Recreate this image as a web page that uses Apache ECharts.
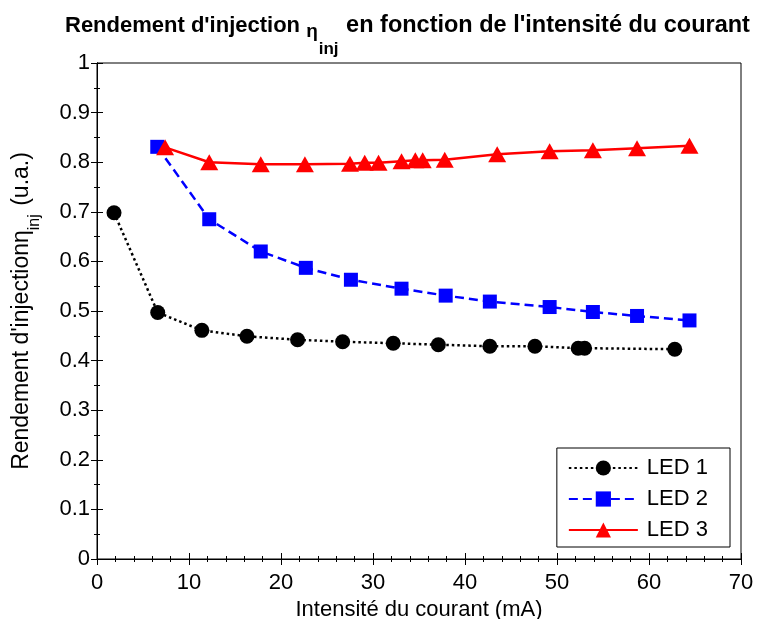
<!DOCTYPE html>
<html><head><meta charset="utf-8">
<script src="https://cdn.jsdelivr.net/npm/echarts@6/dist/echarts.min.js"></script>
<style>html,body{margin:0;padding:0;background:#fff}#c{width:771px;height:619px}</style>
</head><body><div id="c"></div>
<script>
const xTickLabels = ['0','10','20','30','40','50','60','70'];
const yTickLabels = ['0','0.1','0.2','0.3','0.4','0.5','0.6','0.7','0.8','0.9','1'];
const seriesNames = ['LED 1','LED 2','LED 3'];
const led1X = [1.85, 6.6, 11.4, 16.3, 21.8, 26.7, 32.2, 37.1, 42.7, 47.6, 52.3, 53.0, 62.8];
const led1Y = [0.698, 0.497, 0.461, 0.449, 0.442, 0.438, 0.435, 0.432, 0.429, 0.429, 0.425, 0.425, 0.423];
const led2X = [6.55, 12.2, 17.8, 22.7, 27.6, 33.1, 37.9, 42.7, 49.2, 53.9, 58.7, 64.4];
const led2Y = [0.831, 0.685, 0.620, 0.587, 0.563, 0.545, 0.531, 0.519, 0.508, 0.498, 0.490, 0.481];
const led3X = [7.4, 12.2, 17.8, 22.6, 27.5, 29.1, 30.6, 33.1, 34.6, 35.4, 37.8, 43.5, 49.2, 53.9, 58.7, 64.4];
const led3Y = [0.830, 0.800, 0.796, 0.796, 0.797, 0.799, 0.799, 0.802, 0.804, 0.804, 0.805, 0.816, 0.822, 0.824, 0.828, 0.833];

const zip = (xs, ys) => xs.map((x, i) => [x, ys[i]]);
const FONT = '"Liberation Sans", Arial, sans-serif';
const chart = echarts.init(document.getElementById('c'));

const axisLine = {show: true, lineStyle: {color: '#000', width: 1}};
const axisTick = {show: true, inside: true, length: 6, lineStyle: {color: '#000'}};
const xMin = +xTickLabels[0], xMax = +xTickLabels[xTickLabels.length-1];
const yMin = +yTickLabels[0], yMax = +yTickLabels[yTickLabels.length-1];

chart.setOption({
  animation: false,
  backgroundColor: '#fff',
  title: {
    text: "{b|Rendement d'injection }{eta|η}{sub|inj}{c| en fonction de l'intensité du courant}",
    left: 60, top: 8,
    textStyle: {
      rich: {
        b: {fontFamily: FONT, fontWeight: 'bold', fontSize: 22, color: '#000', lineHeight: 26},
        c: {fontFamily: FONT, fontWeight: 'bold', fontSize: 23.5, color: '#000', lineHeight: 26},
        eta: {fontFamily: FONT, fontSize: 19, color: '#000', lineHeight: 26, verticalAlign: 'bottom', padding: [0,0,-2,0]},
        sub: {fontFamily: FONT, fontWeight: 'bold', fontSize: 17, color: '#000', lineHeight: 26, verticalAlign: 'bottom', padding: [0,1,-19,1]}
      }
    }
  },
  grid: {left: 97, right: 30, top: 63, bottom: 60, show: true, borderColor: '#000', borderWidth: 1,
    backgroundColor: '#fff', containLabel: false, outerBoundsMode: 'none'},
  legend: {
    data: seriesNames,
    orient: 'vertical',
    right: 41, bottom: 72,
    backgroundColor: '#fff',
    borderColor: '#000', borderWidth: 1,
    padding: [9, 22, 6, 11],
    itemWidth: 69, itemHeight: 19, itemGap: 9,
    textStyle: {fontFamily: FONT, fontSize: 22, color: '#000', padding: [0,0,0,4]}
  },
  xAxis: [
    {
      type: 'value', min: xMin, max: xMax, interval: 10, position: 'bottom',
      axisLine, axisTick, splitLine: {show: false},
      minorTick: {show: true, splitNumber: 5, length: 3, lineStyle: {color: '#000'}},
      axisLabel: {fontFamily: FONT, fontSize: 22, color: '#000', margin: 13,
        formatter: v => xTickLabels[Math.round((v - xMin)/10)]},
      name: 'Intensité du courant (mA)', nameLocation: 'middle', nameGap: 37,
      nameTextStyle: {fontFamily: FONT, fontSize: 22, color: '#000'}
    },
    {
      type: 'value', min: xMin, max: xMax, interval: 10, position: 'top',
      axisLine, axisTick, splitLine: {show: false},
      minorTick: {show: true, splitNumber: 5, length: 3, lineStyle: {color: '#000'}},
      axisLabel: {show: false}
    }
  ],
  yAxis: [
    {
      type: 'value', min: yMin, max: yMax, interval: 0.1, position: 'left',
      axisLine, axisTick, splitLine: {show: false},
      minorTick: {show: true, splitNumber: 2, length: 3, lineStyle: {color: '#000'}},
      axisLabel: {fontFamily: FONT, fontSize: 22, color: '#000', margin: 7,
        formatter: v => yTickLabels[Math.round((v - yMin)/0.1)]},
      name: "{a|Rendement d'injection}{eta|η}{sub|inj}{a| (u.a.)}",
      nameLocation: 'middle', nameGap: 62, nameRotate: 90,
      nameTextStyle: {
        rich: {
          a: {fontFamily: FONT, fontSize: 23, color: '#000', lineHeight: 26},
          eta: {fontFamily: FONT, fontSize: 23, color: '#000', lineHeight: 26},
          sub: {fontFamily: FONT, fontSize: 16, color: '#000', lineHeight: 26, verticalAlign: 'bottom', padding: [0,2,-8,0]}
        }
      }
    },
    {
      type: 'value', min: yMin, max: yMax, interval: 0.1, position: 'right',
      axisLine, axisTick, splitLine: {show: false},
      minorTick: {show: true, splitNumber: 2, length: 3, lineStyle: {color: '#000'}},
      axisLabel: {show: false}
    }
  ],
  series: [
    {name: seriesNames[0], type: 'line', data: zip(led1X, led1Y), symbol: 'circle', symbolSize: 15,
      lineStyle: {color: '#000', width: 2.5, type: [2.5, 3]}, itemStyle: {color: '#000'}},
    {name: seriesNames[1], type: 'line', data: zip(led2X, led2Y), symbol: 'rect', symbolSize: 14,
      lineStyle: {color: '#0000ff', width: 2.5, type: [9, 5]}, itemStyle: {color: '#0000ff'}},
    {name: seriesNames[2], type: 'line', data: zip(led3X, led3Y), symbol: 'triangle', symbolSize: [18, 16],
      lineStyle: {color: '#ff0000', width: 2.5, type: 'solid'}, itemStyle: {color: '#ff0000'}}
  ]
});
</script></body></html>
